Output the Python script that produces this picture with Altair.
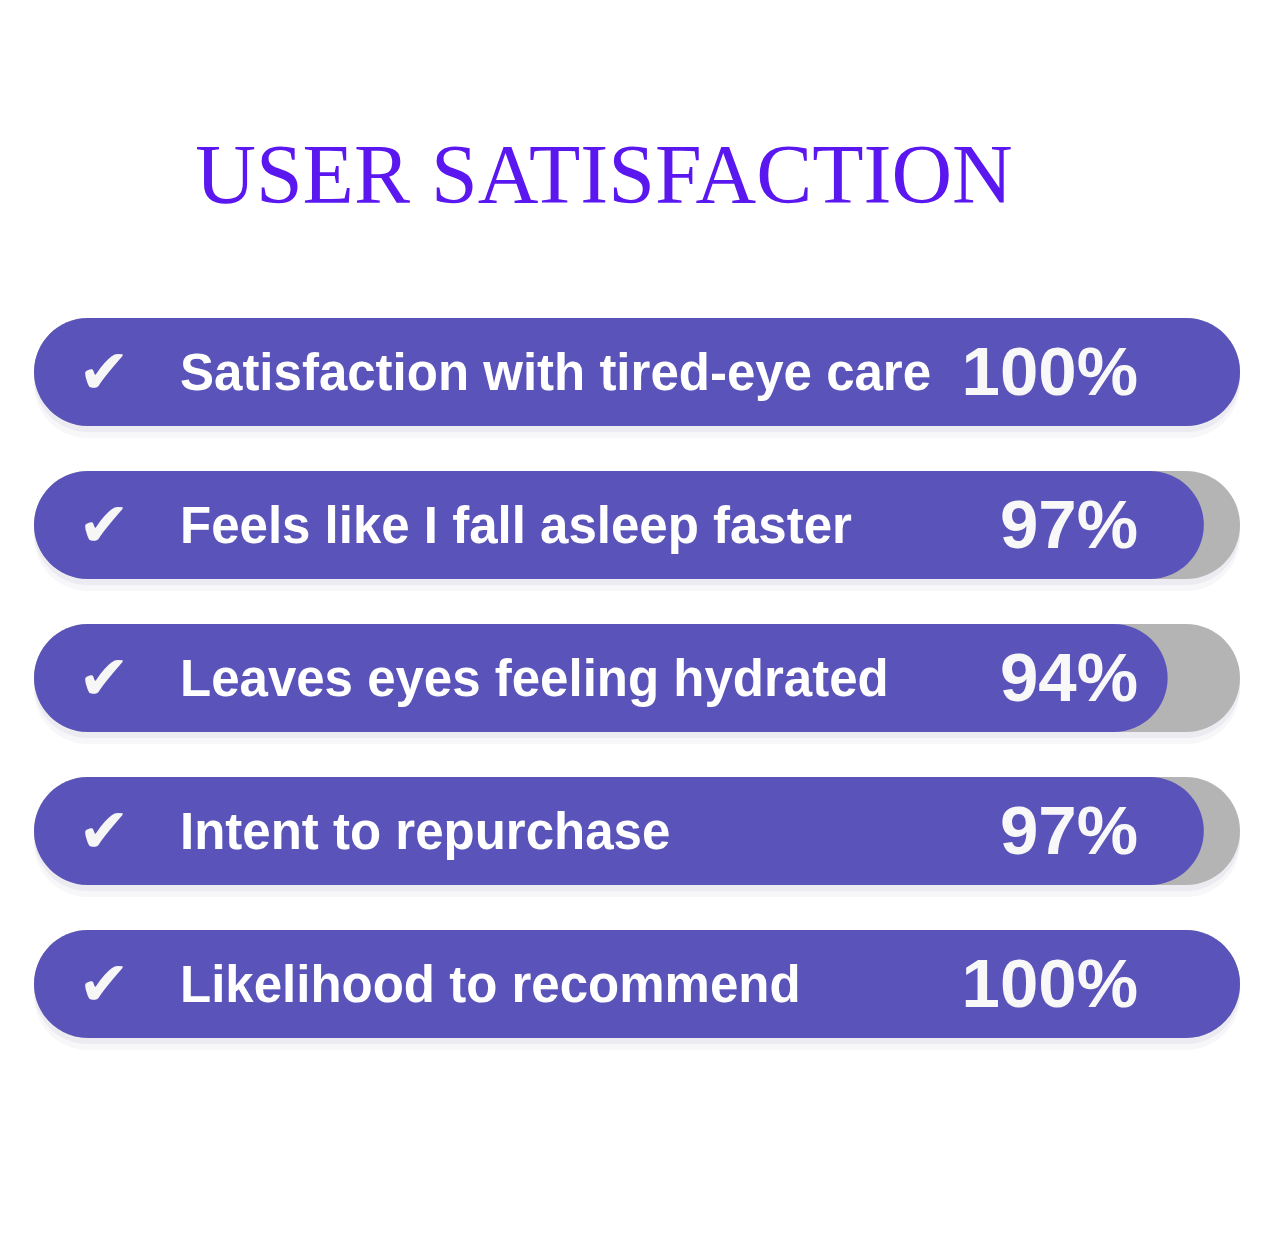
import altair as alt
import pandas as pd

title_text = "USER SATISFACTION"
labels = [
    "Satisfaction with tired-eye care",
    "Feels like I fall asleep faster",
    "Leaves eyes feeling hydrated",
    "Intent to repurchase",
    "Likelihood to recommend",
]
values = [100, 97, 94, 97, 100]
pct_labels = ["100%", "97%", "94%", "97%", "100%"]
track_max = [100, 100, 100, 100, 100]

df = pd.DataFrame({"label": labels, "value": values, "pct": pct_labels, "track": track_max})

PURPLE = "#5a53b9"
GRAY = "#b4b4b4"
TITLE_COLOR = "#5b17f0"
R = 54

x_scale = alt.Scale(domain=[0, 100], range=[26, 1232])
y_scale = alt.Scale(domain=labels, range=[310, 1030], paddingInner=0.294, paddingOuter=0)

X_track = alt.X("track:Q", scale=x_scale, axis=None, stack=None)
X_val = alt.X("value:Q", scale=x_scale, axis=None, stack=None)
Y = alt.Y("label:N", scale=y_scale, axis=None, sort=labels)

base = alt.Chart(df)

shadow1 = base.mark_bar(cornerRadius=R, color="#c8c8da", opacity=0.15, yOffset=12).encode(x=X_track, y=Y)
shadow2 = base.mark_bar(cornerRadius=R, color="#c8c8da", opacity=0.25, yOffset=6).encode(x=X_track, y=Y)
track = base.mark_bar(cornerRadius=R, color=GRAY).encode(x=X_track, y=Y)
bars = base.mark_bar(cornerRadius=R, color=PURPLE).encode(x=X_val, y=Y)

checks = base.mark_text(
    text="✔", font="DejaVu Sans", fontSize=62, color="#f6f6f6",
    align="center", baseline="middle", dy=2
).encode(x=alt.value(96), y=Y)

label_text = base.mark_text(
    align="left", baseline="alphabetic", dy=18,
    font="Liberation Sans", fontWeight="bold", fontSize=51, color="#ffffff"
).encode(x=alt.value(172), y=Y, text="label:N")

pct_text = base.mark_text(
    align="right", baseline="alphabetic", dy=23,
    font="Liberation Sans", fontWeight="bold", fontSize=69, color="#f8f8f8"
).encode(x=alt.value(1130), y=Y, text="pct:N")

title = alt.Chart(pd.DataFrame({"t": [title_text]})).mark_text(
    font="Liberation Serif", fontSize=84, color=TITLE_COLOR,
    align="center", baseline="alphabetic"
).encode(x=alt.value(596), y=alt.value(195), text="t:N")

chart = alt.layer(
    shadow1, shadow2, track, bars, checks, label_text, pct_text, title
).properties(width=1252, height=1232, padding=0, background="white").configure_view(stroke=None)

chart.save("out.html", embed_options={"renderer": "svg", "actions": False})
